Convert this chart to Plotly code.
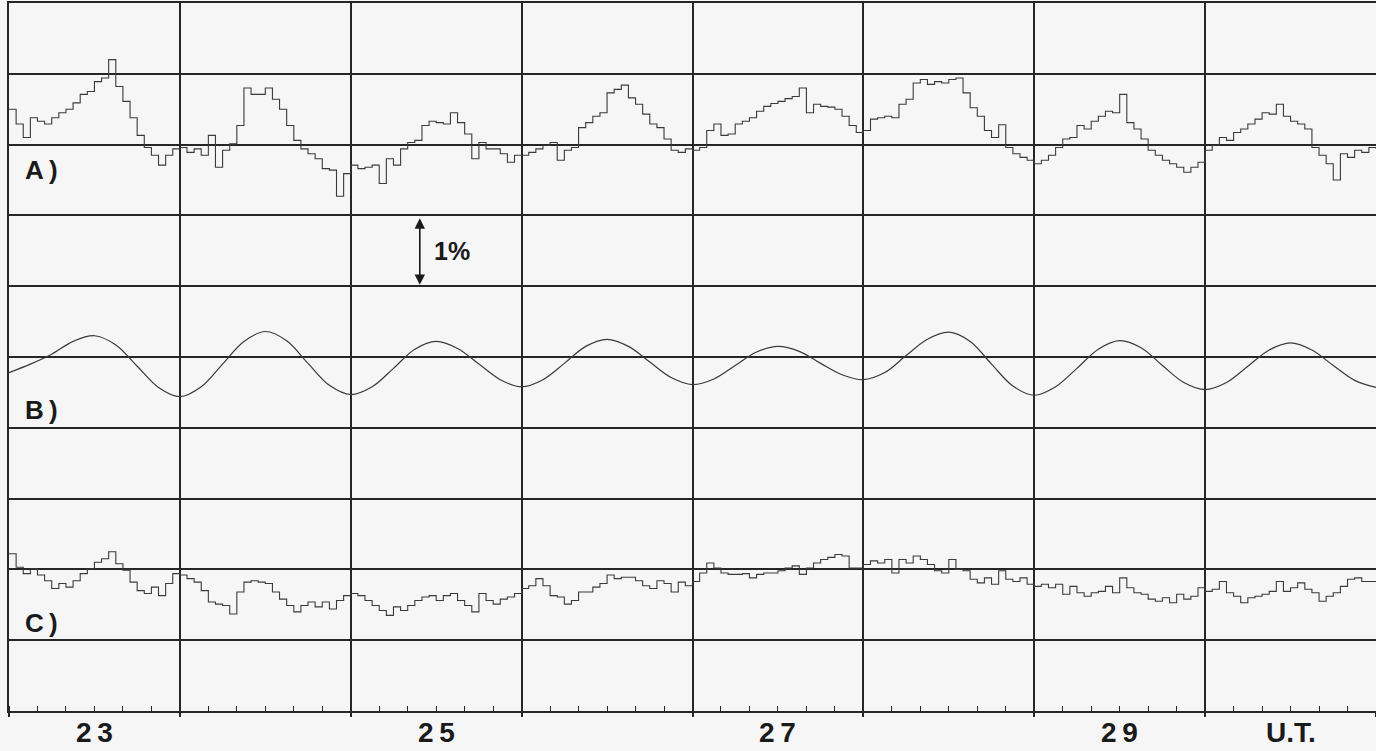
import numpy as np
import plotly.graph_objects as go

# ---------------- data (percent deviations, hourly) ----------------
day_labels = ["23", "25", "27", "29", "U.T."]
day_label_hours = [12, 60, 108, 156, 180]   # centre of the labelled day intervals

series_A = [
    0.50, 0.29, 0.10, 0.38, 0.33, 0.29, 0.38, 0.45, 0.50, 0.59, 0.71, 0.75, 0.89, 0.94, 1.20, 0.82, 0.61, 0.38, 0.13, -0.04, -0.15, -0.29, -0.15, -0.06,
    -0.04, -0.11, -0.06, -0.15, 0.13, -0.32, -0.08, 0.01, 0.27, 0.80, 0.71, 0.71, 0.80, 0.64, 0.50, 0.27, 0.06, -0.06, -0.13, -0.20, -0.34, -0.36, -0.73, -0.41,
    -0.29, -0.34, -0.32, -0.29, -0.55, -0.20, -0.29, -0.06, 0.03, 0.06, 0.27, 0.33, 0.31, 0.29, 0.45, 0.31, 0.15, -0.20, 0.03, -0.06, -0.06, -0.13, -0.25, -0.15,
    -0.15, -0.11, -0.06, -0.01, 0.03, -0.22, -0.08, -0.04, 0.24, 0.31, 0.40, 0.45, 0.73, 0.78, 0.84, 0.66, 0.57, 0.43, 0.29, 0.24, 0.08, -0.08, -0.11, -0.06,
    -0.08, -0.04, 0.20, 0.29, 0.13, 0.15, 0.29, 0.33, 0.38, 0.47, 0.54, 0.58, 0.61, 0.65, 0.68, 0.80, 0.45, 0.57, 0.54, 0.53, 0.50, 0.40, 0.27, 0.17,
    0.20, 0.36, 0.38, 0.40, 0.38, 0.57, 0.64, 0.87, 0.92, 0.85, 0.89, 0.87, 0.92, 0.94, 0.73, 0.52, 0.40, 0.20, 0.10, 0.28, -0.04, -0.13, -0.18, -0.22,
    -0.27, -0.22, -0.15, -0.04, 0.08, 0.10, 0.27, 0.22, 0.33, 0.40, 0.47, 0.45, 0.71, 0.31, 0.22, 0.08, -0.08, -0.15, -0.22, -0.27, -0.32, -0.39, -0.32, -0.25,
    -0.08, -0.01, 0.10, 0.06, 0.17, 0.22, 0.29, 0.36, 0.45, 0.43, 0.57, 0.40, 0.33, 0.29, 0.22, -0.04, -0.15, -0.27, -0.50, -0.13, -0.18, -0.08, -0.11, -0.04,
    -0.06,
]

# B sampled every 3 hours
series_B = [
    -0.22, -0.10, 0.04, 0.22, 0.30, 0.17, -0.13, -0.43,
    -0.56, -0.42, -0.10, 0.22, 0.36, 0.23, -0.09, -0.40,
    -0.53, -0.42, -0.16, 0.11, 0.22, 0.12, -0.10, -0.32,
    -0.42, -0.32, -0.09, 0.15, 0.25, 0.15, -0.07, -0.29,
    -0.39, -0.31, -0.12, 0.07, 0.15, 0.08, -0.09, -0.25,
    -0.32, -0.22, 0.02, 0.25, 0.35, 0.22, -0.10, -0.41,
    -0.54, -0.42, -0.16, 0.11, 0.23, 0.13, -0.12, -0.36,
    -0.46, -0.36, -0.13, 0.10, 0.20, 0.10, -0.12, -0.33,
    -0.43,
]

series_C = [
    0.22, 0.03, -0.06, 0.01, -0.08, -0.16, -0.27, -0.20, -0.25, -0.16, -0.06, 0.01, 0.10, 0.15, 0.25, 0.08, -0.01, -0.18, -0.30, -0.34, -0.25, -0.37, -0.20, -0.06,
    -0.08, -0.13, -0.18, -0.30, -0.46, -0.49, -0.51, -0.63, -0.32, -0.18, -0.16, -0.18, -0.20, -0.32, -0.42, -0.51, -0.60, -0.51, -0.46, -0.53, -0.46, -0.56, -0.44, -0.37,
    -0.34, -0.37, -0.44, -0.51, -0.58, -0.65, -0.53, -0.58, -0.51, -0.44, -0.39, -0.37, -0.44, -0.37, -0.34, -0.44, -0.51, -0.60, -0.34, -0.44, -0.49, -0.42, -0.39, -0.34,
    -0.27, -0.23, -0.13, -0.23, -0.37, -0.39, -0.49, -0.44, -0.32, -0.32, -0.25, -0.20, -0.08, -0.13, -0.11, -0.11, -0.16, -0.23, -0.27, -0.16, -0.20, -0.32, -0.18, -0.23,
    -0.17, -0.05, 0.09, 0.02, -0.05, -0.07, -0.07, -0.06, -0.12, -0.07, -0.05, -0.05, -0.02, 0.02, 0.05, -0.07, 0.02, 0.09, 0.14, 0.17, 0.21, 0.19, 0.02, 0.02,
    0.07, 0.12, 0.09, 0.14, -0.05, 0.14, 0.09, 0.19, 0.14, 0.07, -0.02, -0.05, 0.14, 0.00, -0.02, -0.14, -0.19, -0.12, -0.21, -0.02, -0.14, -0.17, -0.12, -0.21,
    -0.24, -0.21, -0.26, -0.21, -0.35, -0.24, -0.33, -0.38, -0.33, -0.31, -0.24, -0.33, -0.12, -0.26, -0.33, -0.35, -0.42, -0.45, -0.40, -0.47, -0.35, -0.42, -0.38, -0.26,
    -0.31, -0.28, -0.17, -0.33, -0.38, -0.47, -0.40, -0.38, -0.35, -0.31, -0.17, -0.31, -0.26, -0.19, -0.28, -0.33, -0.45, -0.38, -0.33, -0.24, -0.14, -0.12, -0.17, -0.17,
    -0.17,
]

# ---------------- layout constants ----------------
OFF_A, OFF_B, OFF_C = 8.0, 5.0, 2.0
INK = "#262626"
TRACE = "#3a3a3a"
BG = "#f6f6f6"
FONT = "Liberation Sans, Arial, sans-serif"
THIN = "\u2009"

hours_A = np.arange(len(series_A))
hours_C = np.arange(len(series_C))
hours_B = np.arange(len(series_B)) * 3

fig = go.Figure()
fig.add_trace(go.Scatter(x=hours_A, y=np.array(series_A) + OFF_A, mode="lines",
                         line=dict(color=TRACE, width=1.1, shape="hv"), hoverinfo="skip"))
fig.add_trace(go.Scatter(x=hours_B, y=np.array(series_B) + OFF_B, mode="lines",
                         line=dict(color=TRACE, width=1.2, shape="spline", smoothing=1.0), hoverinfo="skip"))
fig.add_trace(go.Scatter(x=hours_C, y=np.array(series_C) + OFF_C, mode="lines",
                         line=dict(color=TRACE, width=1.1, shape="hv"), hoverinfo="skip"))

annotations = []
for lab, h in zip(day_labels, day_label_hours):
    spaced = THIN.join(lab) if lab.isdigit() else lab
    annotations.append(dict(x=h, y=-0.031, xref="x", yref="paper", text=f"<b>{spaced}</b>",
                            showarrow=False, font=dict(family=FONT, size=28, color="#1a1a1a"),
                            xanchor="center", yanchor="middle"))
for lab, yv in [("A)", 7.64), ("B)", 4.25), ("C)", 1.24)]:
    annotations.append(dict(x=4.6, y=yv, xref="x", yref="y", text=f"<b>{lab[0]}{THIN}{lab[1]}</b>",
                            showarrow=False, font=dict(family=FONT, size=26, color="#1a1a1a"),
                            xanchor="center", yanchor="middle"))
# 1% scale arrow
annotations.append(dict(x=57.7, y=6.02, ax=57.7, ay=6.98, xref="x", yref="y", axref="x", ayref="y",
                        text="", showarrow=True, arrowhead=2, arrowsize=1.3, arrowwidth=1.6,
                        arrowside="end+start", arrowcolor="#1a1a1a"))
annotations.append(dict(x=59.4, y=6.5, xref="x", yref="y", text="<b>1%</b>", showarrow=False,
                        font=dict(family=FONT, size=25, color="#1a1a1a"), xanchor="left", yanchor="middle"))

fig.update_layout(
    width=1376, height=751,
    margin=dict(l=9, r=0, t=3, b=40),
    paper_bgcolor=BG, plot_bgcolor=BG,
    showlegend=False,
    annotations=annotations,
    xaxis=dict(range=[0, 192], dtick=24, tick0=0, showgrid=True, gridcolor=INK, gridwidth=1.7,
               showticklabels=False, ticks="outside", ticklen=4, tickcolor=INK, tickwidth=1.7,
               showline=True, linecolor=INK, linewidth=2, mirror=True, zeroline=False,
               minor=dict(dtick=4, tick0=0, ticks="inside", ticklen=5, tickcolor=INK, tickwidth=1.4,
                          showgrid=False)),
    yaxis=dict(range=[0, 10], dtick=1, tick0=0, showgrid=True, gridcolor=INK, gridwidth=1.7,
               showticklabels=False, ticks="", showline=True, linecolor=INK, linewidth=2,
               zeroline=False),
)

fig.write_html("out.html", config={"displayModeBar": False},
               post_script="document.body.style.margin='0';document.body.style.overflow='hidden';")
